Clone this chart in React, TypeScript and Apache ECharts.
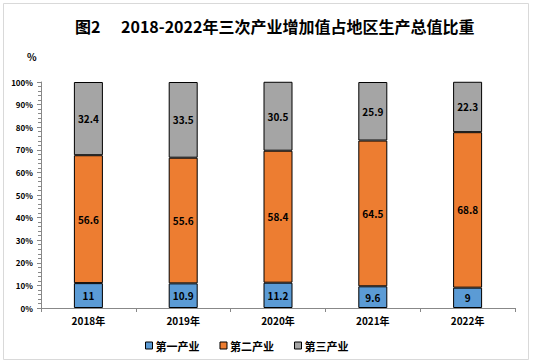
import React, { useEffect, useRef } from "react";
import * as echarts from "echarts";

const categories = ["2018年", "2019年", "2020年", "2021年", "2022年"];
const primary = [11, 10.9, 11.2, 9.6, 9];
const secondary = [56.6, 55.6, 58.4, 64.5, 68.8];
const tertiary = [32.4, 33.5, 30.5, 25.9, 22.3];
const seriesNames = ["第一产业", "第二产业", "第三产业"];
const colors = ["#5B9BD5", "#ED7D31", "#A5A5A5"];

const FONT = "'Noto Sans CJK SC', 'Noto Sans', sans-serif";

export default function App() {
  const ref = useRef<HTMLDivElement>(null);
  useEffect(() => {
    if (!ref.current) return;
    const chart = echarts.init(ref.current, null, { renderer: "svg" });
    const mkSeries = (name: string, data: number[], color: string) => ({
      name,
      type: "bar",
      stack: "total",
      data,
      barWidth: 29,
      itemStyle: { color, borderColor: "#000", borderWidth: 1 },
      label: {
        show: true,
        position: "inside",
        color: "#000",
        fontSize: 10,
        fontWeight: "bold",
        fontFamily: FONT,
      },
    });
    chart.setOption({
      animation: false,
      backgroundColor: "#fff",
      textStyle: { fontFamily: FONT },
      graphic: [
        {
          type: "rect",
          shape: { x: 3.5, y: 3.5, width: 525, height: 356 },
          style: { fill: "none", stroke: "#d9d9d9", lineWidth: 1 },
        },
        {
          type: "text",
          left: 75,
          top: 18,
          style: { text: "图2", font: `bold 16px ${FONT}`, fill: "#000" },
        },
        {
          type: "text",
          left: 121,
          top: 18,
          style: {
            text: "2018-2022年三次产业增加值占地区生产总值比重",
            font: `bold 16px ${FONT}`,
            fill: "#000",
          },
        },
        {
          type: "text",
          left: 27,
          top: 51,
          style: { text: "%", font: `bold 10px ${FONT}`, fill: "#000" },
        },
      ],
      legend: {
        data: seriesNames,
        left: 140,
        top: 335,
        itemWidth: 7,
        itemHeight: 7,
        itemGap: 20,
        icon: "rect",
        textStyle: { fontSize: 11, fontWeight: "bold", color: "#000", fontFamily: FONT, padding: [0, 0, 0, -2] },
        itemStyle: { borderColor: "#000", borderWidth: 1 },
      },
      grid: { left: 41, right: 18, top: 82, bottom: 55, containLabel: false },
      xAxis: {
        type: "category",
        data: categories,
        axisLine: { lineStyle: { color: "#888", width: 1 } },
        axisTick: { show: true, length: 4, lineStyle: { color: "#888" } },
        axisLabel: { color: "#000", fontSize: 10, fontWeight: "bold", margin: 7, fontFamily: FONT },
      },
      yAxis: {
        type: "value",
        min: 0,
        max: 100,
        interval: 10,
        axisLine: { show: true, lineStyle: { color: "#888", width: 1 } },
        axisTick: { show: true, length: 4, lineStyle: { color: "#888" } },
        minorTick: { show: true, splitNumber: 5, length: 3, lineStyle: { color: "#888" } },
        splitLine: { show: false },
        axisLabel: { formatter: "{value}%", color: "#000", fontSize: 8, fontWeight: "bold", margin: 8, fontFamily: FONT },
      },
      series: [
        mkSeries(seriesNames[0], primary, colors[0]),
        mkSeries(seriesNames[1], secondary, colors[1]),
        mkSeries(seriesNames[2], tertiary, colors[2]),
      ],
    });
    return () => chart.dispose();
  }, []);
  return <div ref={ref} style={{ position: "fixed", left: 0, top: 0, width: 533, height: 363 }} />;
}
